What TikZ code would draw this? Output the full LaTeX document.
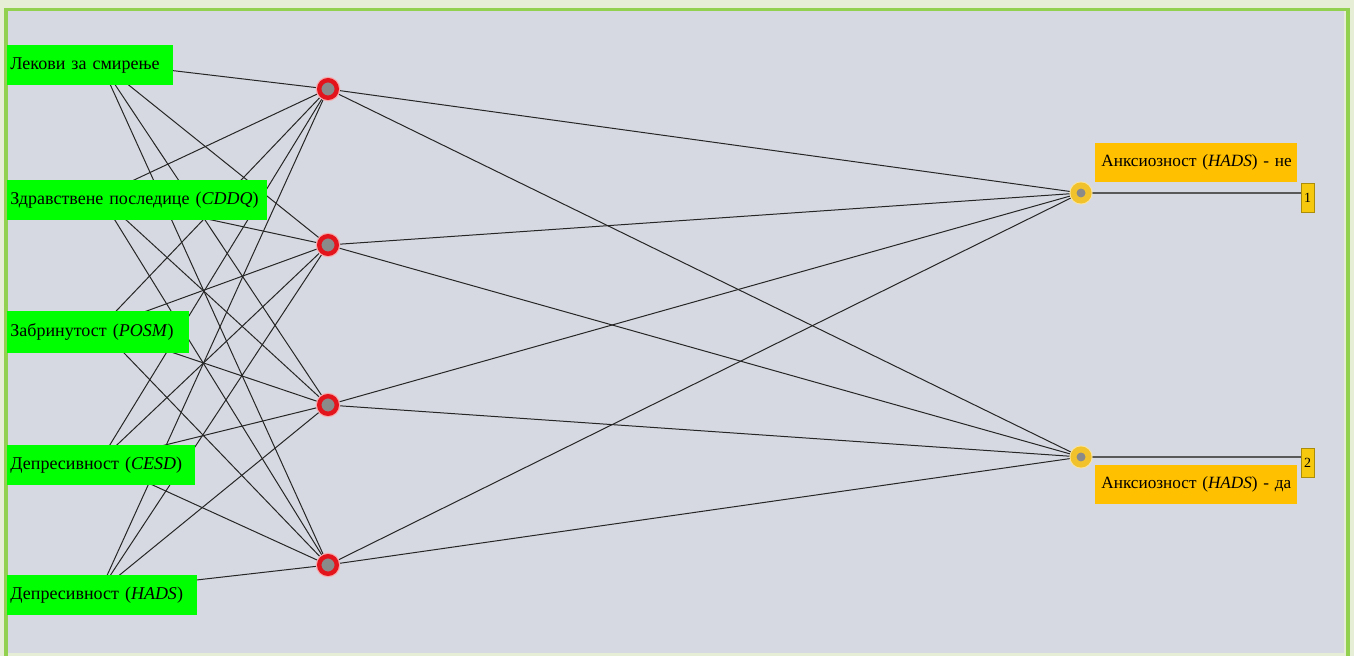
\documentclass[tikz,border=0pt]{standalone}
\usepackage{fontspec}
\setmainfont{Liberation Serif}
\pgfdeclarelayer{back}
\pgfdeclarelayer{wires}
\pgfsetlayers{back,wires,main}
\definecolor{pagegreen}{HTML}{E6EED6}
\definecolor{panelgray}{HTML}{D6D9E1}
\definecolor{framegreen}{HTML}{92D050}
\definecolor{ingreen}{HTML}{00FF00}
\definecolor{outgold}{HTML}{FFC000}
\definecolor{ringred}{HTML}{E3141C}
\definecolor{ringgold}{HTML}{F2C22C}
\definecolor{coregray}{HTML}{8A8A8A}
\definecolor{tabgold}{HTML}{F6C90E}

\tikzset{
  inbox/.style={fill=ingreen, anchor=west, minimum height=20pt, inner xsep=1.5pt, inner ysep=0pt, text width=#1, align=left},
  outbox/.style={fill=outgold, anchor=west, minimum height=19.5pt, inner xsep=3pt, inner ysep=0pt, text width=#1, align=left, font=\fontsize{8.6}{10}\selectfont},
  hidden/.style={circle, fill=coregray, draw=ringred, line width=2.2pt, minimum size=8.8pt, inner sep=0pt, preaction={draw=ringred!35, line width=3.4pt}},
  outnode/.style={circle, fill=coregray, draw=ringgold, line width=3pt, minimum size=7.5pt, inner sep=0pt, preaction={draw=ringgold!45, line width=4pt}},
  tab/.style={fill=tabgold, draw=tabgold!70!black, line width=0.4pt, minimum width=6.5pt, minimum height=14.5pt, inner sep=0pt, font=\fontsize{7}{8}\selectfont},
  wire/.style={line width=0.5pt, black!85},
  outwire/.style={line width=0.6pt, black!65}
}

\begin{document}
\begin{tikzpicture}[x=0.5pt, y=-0.5pt, font=\fontsize{9}{11}\selectfont]
\useasboundingbox (0,0) rectangle (1354,656);
% frame and panel
\begin{pgfonlayer}{back}
\fill[pagegreen] (0,0) rectangle (1354,656);
\fill[panelgray] (8,11.5) rectangle (1344,653);
\fill[framegreen] (4,8.5) rectangle (1350,11.5);
\fill[framegreen] (4,8.5) rectangle (8,656);
\fill[framegreen] (1346,8.5) rectangle (1350,656);
\end{pgfonlayer}

% input layer
\coordinate (in1) at (100,62);
\coordinate (in2) at (100,196);
\coordinate (in3) at (100,328);
\coordinate (in4) at (100,461);
\coordinate (in5) at (100,591);
\node[inbox=80pt] (lab1) at (7,65.5) {\mbox{Лекови за смирење}};
\node[inbox=127pt] (lab2) at (7,200) {\mbox{Здравствене последице (\textit{CDDQ})}};
\node[inbox=88pt, minimum height=21pt] (lab3) at (7,332) {\mbox{Забринутост (\textit{POSM})}};
\node[inbox=91pt] (lab4) at (7,465) {\mbox{Депресивност (\textit{CESD})}};
\node[inbox=92pt] (lab5) at (7,595) {\mbox{Депресивност (\textit{HADS})}};

% hidden layer
\node[hidden] (h1) at (328,89) {};
\node[hidden] (h2) at (328,245) {};
\node[hidden] (h3) at (328,405) {};
\node[hidden] (h4) at (328,565) {};

% output layer
\node[outnode] (o1) at (1081,193) {};
\node[outnode] (o2) at (1081,457) {};
\node[outbox=95pt] (lab6) at (1095,162.5) {\mbox{Анксиозност (\textit{HADS}) - не}};
\node[outbox=95pt] (lab7) at (1095,484.5) {\mbox{Анксиозност (\textit{HADS}) - да}};
\node[tab] (k1) at (1307.5,197.5) {1};
\node[tab] (k2) at (1307.5,462.5) {2};

\begin{pgfonlayer}{wires}
\draw[wire] (in1) -- (h1) (in1) -- (h2) (in1) -- (h3) (in1) -- (h4);
\draw[wire] (in2) -- (h1) (in2) -- (h2) (in2) -- (h3) (in2) -- (h4);
\draw[wire] (in3) -- (h1) (in3) -- (h2) (in3) -- (h3) (in3) -- (h4);
\draw[wire] (in4) -- (h1) (in4) -- (h2) (in4) -- (h3) (in4) -- (h4);
\draw[wire] (in5) -- (h1) (in5) -- (h2) (in5) -- (h3) (in5) -- (h4);
\draw[wire] (h1) -- (o1) (h2) -- (o1) (h3) -- (o1) (h4) -- (o1);
\draw[wire] (h1) -- (o2) (h2) -- (o2) (h3) -- (o2) (h4) -- (o2);
\draw[outwire] (o1) -- (o1 -| k1.west);
\draw[outwire] (o2) -- (o2 -| k2.west);
\end{pgfonlayer}
\end{tikzpicture}
\end{document}
